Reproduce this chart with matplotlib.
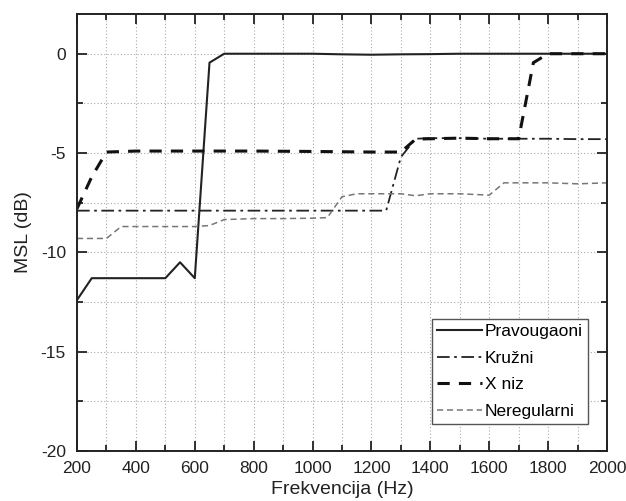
import matplotlib
matplotlib.use("Agg")
import matplotlib.pyplot as plt
from matplotlib.ticker import MultipleLocator

plt.rcParams['font.family'] = ['Liberation Sans', 'DejaVu Sans']
plt.rcParams['axes.unicode_minus'] = False

freq_prav = [200, 250, 500, 550, 600, 650, 700, 800, 900, 1000, 1100, 1200, 1300, 1400, 1500, 1600, 1700, 1800, 1900, 2000]
msl_prav = [-12.4, -11.3, -11.3, -10.5, -11.3, -0.45, 0.0, 0.0, 0.0, 0.0, -0.03, -0.05, -0.03, -0.02, 0.0, 0.0, 0.0, 0.0, 0.0, 0.0]

freq_kruz = [200, 400, 600, 800, 1000, 1250, 1300, 1350, 1400, 1500, 1600, 1700, 1800, 1900, 2000]
msl_kruz = [-7.9, -7.9, -7.9, -7.9, -7.9, -7.9, -5.2, -4.28, -4.25, -4.25, -4.28, -4.28, -4.28, -4.3, -4.3]

freq_xniz = [200, 250, 300, 400, 600, 800, 1000, 1200, 1300, 1350, 1400, 1500, 1600, 1700, 1750, 1800, 1900, 2000]
msl_xniz = [-7.8, -6.2, -4.95, -4.9, -4.9, -4.9, -4.92, -4.95, -4.95, -4.3, -4.28, -4.25, -4.28, -4.28, -0.45, 0.0, 0.0, 0.0]

freq_nereg = [200, 300, 350, 400, 500, 600, 650, 700, 800, 900, 1000, 1050, 1100, 1150, 1200, 1300, 1350, 1400, 1500, 1600, 1650, 1700, 1800, 1900, 2000]
msl_nereg = [-9.3, -9.3, -8.7, -8.7, -8.7, -8.7, -8.65, -8.35, -8.3, -8.3, -8.28, -8.25, -7.2, -7.05, -7.05, -7.05, -7.15, -7.05, -7.05, -7.12, -6.5, -6.5, -6.5, -6.55, -6.5]

labels = ['Pravougaoni', 'Kružni', 'X niz', 'Neregularni']

fig = plt.figure(figsize=(6.26, 5.01), dpi=100)
ax = fig.add_axes([77/626, 1 - 451/501, (607-77)/626, (451-14)/501])

ax.plot(freq_prav, msl_prav, color='#222222', lw=1.5, ls='-', label=labels[0])
ax.plot(freq_kruz, msl_kruz, color='#222222', lw=1.3, ls=(0, (7, 2.5, 1.5, 2.5)), label=labels[1])
ax.plot(freq_xniz, msl_xniz, color='#111111', lw=2.2, ls=(0, (4, 3)), label=labels[2])
ax.plot(freq_nereg, msl_nereg, color='#777777', lw=1.1, ls=(0, (4, 2.5)), label=labels[3])

ax.set_xlim(200, 2000)
ax.set_ylim(-20, 2)
ax.xaxis.set_major_locator(MultipleLocator(200))
ax.xaxis.set_minor_locator(MultipleLocator(100))
ax.yaxis.set_major_locator(MultipleLocator(5))
ax.yaxis.set_minor_locator(MultipleLocator(2.5))
ax.grid(True, which='both', color='#aaaaaa', ls=(0, (1, 2)), lw=0.8)
ax.tick_params(which='both', direction='in', top=True, right=True, labelsize=12.5, colors='#222222', width=1.3)
ax.tick_params(which='major', length=7)
ax.tick_params(which='minor', length=4)
ax.tick_params(axis='x', which='major', pad=7)
ax.tick_params(axis='y', which='major', pad=8)
for s in ax.spines.values():
    s.set_linewidth(1.4)
    s.set_color('#222222')

ax.set_xlabel('Frekvencija (Hz)', fontsize=14, color='#222222', labelpad=4)
ax.set_ylabel('MSL (dB)', fontsize=14, color='#222222', labelpad=6)

leg = ax.legend(loc='lower right', bbox_to_anchor=(0.964, 0.062), fontsize=12.5, handlelength=2.6,
                handletextpad=0.15, borderpad=0.3, borderaxespad=0.0, labelspacing=0.65,
                fancybox=False, framealpha=1)
leg.get_frame().set_edgecolor('#555555')
leg.get_frame().set_linewidth(1.0)

fig.savefig('out.png', dpi=100)
